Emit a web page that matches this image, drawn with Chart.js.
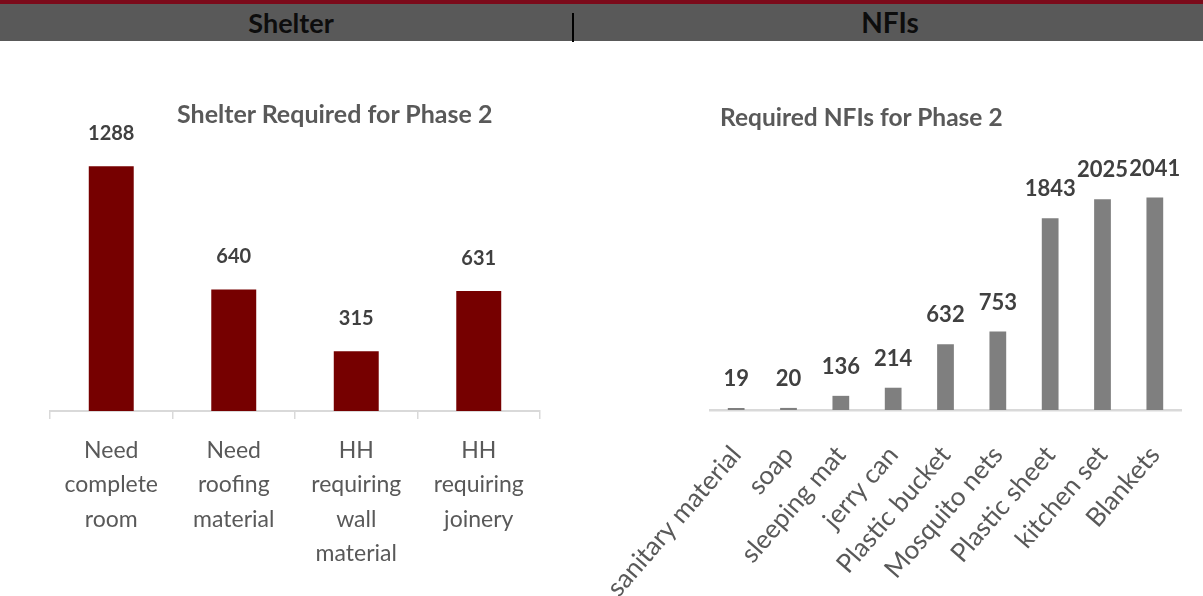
<!DOCTYPE html>
<html><head><meta charset="utf-8">
<script src="https://cdn.jsdelivr.net/npm/chart.js@4.4.1/dist/chart.umd.min.js"></script>
<style>
html,body{margin:0;padding:0;background:#fff;width:1203px;height:596px;overflow:hidden;font-family:Lato,'Open Sans',sans-serif;}
#redbar{position:absolute;left:0;top:0;width:1203px;height:4px;background:#7b0a1a;}
#graybar{position:absolute;left:0;top:4px;width:1203px;height:37px;background:#595959;}
#divider{position:absolute;left:572px;top:13px;width:2px;height:29px;background:#000;}
.hdr{position:absolute;top:4px;height:37px;line-height:37px;font-weight:bold;font-size:27px;color:#0d0d0d;text-align:center;font-family:Lato,sans-serif;}
.title{position:absolute;font-weight:bold;font-size:25px;line-height:28px;color:#595959;white-space:nowrap;font-family:Lato,sans-serif;}
canvas{position:absolute;top:0;}
</style>
</head>
<body>
<div id="redbar"></div>
<div id="graybar"></div>
<div id="divider"></div>
<div class="hdr" style="left:0;width:582px;">Shelter</div>
<div class="hdr" style="left:580px;width:620px;font-size:28px;">NFIs</div>
<canvas id="c1" width="600" height="596" style="left:0;"></canvas>
<canvas id="c2" width="663" height="596" style="left:540px;"></canvas>
<div class="title" style="left:177px;top:99px;">Shelter Required for Phase 2</div>
<div class="title" style="left:720px;top:103px;font-size:24.5px;">Required NFIs for Phase 2</div>
<script>
const shelterCategories = [
  ['Need', 'complete', 'room'],
  ['Need', 'roofing', 'material'],
  ['HH', 'requiring', 'wall', 'material'],
  ['HH', 'requiring', 'joinery']
];
const shelterValues = [1288, 640, 315, 631];

const nfiCategories = ['sanitary material', 'soap', 'sleeping mat', 'jerry can', 'Plastic bucket', 'Mosquito nets', 'Plastic sheet', 'kitchen set', 'Blankets'];
const nfiValues = [19, 20, 136, 214, 632, 753, 1843, 2025, 2041];

const shelterAxisMax = 1400;
const nfiAxisMax = 2200;

const valueLabels = {
  id: 'valueLabels',
  afterDatasetsDraw(chart, args, opts) {
    const ctx = chart.ctx;
    ctx.save();
    ctx.font = opts.font;
    ctx.fillStyle = opts.color;
    ctx.textAlign = 'center';
    ctx.textBaseline = 'alphabetic';
    const ds = chart.data.datasets[0];
    chart.getDatasetMeta(0).data.forEach((bar, i) => {
      ctx.fillText(String(ds.data[i]), bar.x, bar.y - opts.gap);
    });
    ctx.restore();
  }
};

new Chart(document.getElementById('c1'), {
  type: 'bar',
  data: {
    labels: shelterCategories,
    datasets: [{ data: shelterValues, backgroundColor: '#760000', barPercentage: 0.367, categoryPercentage: 1 }]
  },
  options: {
    responsive: false, animation: false, devicePixelRatio: 1,
    layout: { padding: { left: 50, right: 60, top: 145, bottom: 0 } },
    plugins: {
      legend: { display: false }, tooltip: { enabled: false }, title: { display: false },
      valueLabels: { font: 'bold 20px Lato', color: '#404040', gap: 26 }
    },
    scales: {
      x: {
        grid: { display: true, drawOnChartArea: false, drawTicks: true, tickLength: 8, color: '#d9d9d9', lineWidth: 1.5, offset: true },
        border: { display: true, color: '#d9d9d9', width: 2 },
        ticks: { color: '#595959', font: { family: 'Lato', size: 23, lineHeight: 1.5 }, padding: 14, maxRotation: 0, minRotation: 0, autoSkip: false },
        afterFit(s) { s.height = 185; s.paddingLeft = 0; s.paddingRight = 0; }
      },
      y: { display: false, min: 0, max: shelterAxisMax }
    }
  },
  plugins: [valueLabels]
});

new Chart(document.getElementById('c2'), {
  type: 'bar',
  data: {
    labels: nfiCategories,
    datasets: [{ data: nfiValues, backgroundColor: '#7f7f7f', barPercentage: 0.32, categoryPercentage: 1 }]
  },
  options: {
    responsive: false, animation: false, devicePixelRatio: 1,
    layout: { padding: { left: 170, right: 22, top: 181, bottom: 0 } },
    plugins: {
      legend: { display: false }, tooltip: { enabled: false }, title: { display: false },
      valueLabels: { font: 'bold 22px Lato', color: '#404040', gap: 22 }
    },
    scales: {
      x: {
        grid: { display: false, drawTicks: false },
        border: { display: true, color: '#d9d9d9', width: 2.5 },
        ticks: { color: '#595959', font: { family: 'Lato', size: 26 }, padding: 30, maxRotation: 49, minRotation: 49, autoSkip: false },
        afterFit(s) { s.height = 186; s.paddingLeft = 0; s.paddingRight = 0; }
      },
      y: { display: false, min: 0, max: nfiAxisMax }
    }
  },
  plugins: [valueLabels]
});
</script>
</body></html>
